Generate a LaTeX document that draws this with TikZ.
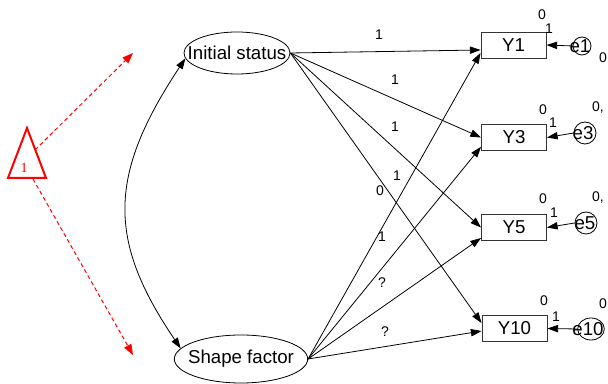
\documentclass[tikz,border=0pt]{standalone}
\usepackage{fontspec}
\setmainfont{Liberation Sans}
\newfontfamily\redserif{Liberation Serif}
\usetikzlibrary{arrows.meta,shapes.geometric}
\begin{document}
\begin{tikzpicture}[x=0.75pt,y=-0.75pt,
  lat/.style={draw, ellipse, inner sep=0pt, line width=0.6pt},
  lattxt/.style={inner sep=0pt, font=\fontsize{14}{16}\selectfont},
  obs/.style={draw=black!80, rectangle, minimum width=48.75pt, minimum height=19.5pt, inner sep=0pt, line width=0.7pt, font=\fontsize{14}{16}\selectfont},
  err/.style={draw, circle, inner sep=0pt, line width=0.6pt},
  errtxt/.style={inner sep=0pt, font=\fontsize{14}{16}\selectfont},
  small/.style={inner sep=0pt, font=\fontsize{10.5}{12}\selectfont},
  tip/.style={Triangle[length=8pt,width=5.5pt]},
  patharr/.style={-{Triangle[length=8pt,width=5.5pt]}, line width=0.6pt},
  redarr/.style={red, dash pattern=on 3pt off 2.2pt, line width=0.75pt, -{Triangle[length=8pt,width=6pt]}}
]
\useasboundingbox (0,0) rectangle (608,384);

% latent variables
\node[lat, minimum width=79.5pt, minimum height=31.5pt] (is) at (237,53) {};
\node[lattxt] (ist) at (is.center) {Initial status};
\node[lat, minimum width=100pt, minimum height=36pt] (sf) at (241,359) {};
\node[lattxt] (sft) at (sf.center) {Shape factor};

% observed
\node[obs] (y1) at (513.5,45) {Y1};
\node[obs] (y3) at (514,137.5) {Y3};
\node[obs] (y5) at (514,227.5) {Y5};
\node[obs] (y10) at (514.5,328.5) {Y10};

% errors
\node[err, minimum size=13.5pt] (e1) at (582,46) {};
\node[errtxt] (e1t) at (580,46) {e1};
\node[err, minimum size=16.5pt] (e3) at (585,133) {};
\node[errtxt] (e3t) at (583,133) {e3};
\node[err, minimum size=16.5pt] (e5) at (586,223) {};
\node[errtxt] (e5t) at (585,223) {e5};
\node[draw, ellipse, inner sep=0pt, line width=0.6pt, minimum width=20pt, minimum height=16.5pt] (e10) at (591,329) {};
\node[errtxt] (e10t) at (588,329) {e10};

\draw[patharr] (e1.west) -- (y1.east);
\draw[patharr] (e3.west) -- (y3.east);
\draw[patharr] (e5.west) -- (y5.east);
\draw[patharr] (e10.west) -- (y10.east);

% small labels near observed / errors
\node[small] (l1a) at (542,15) {0};
\node[small] (l1b) at (549,29) {1};
\node[small] (l1c) at (603,58) {0};
\node[small] (l3a) at (543,110) {0};
\node[small] (l3b) at (553,123) {1};
\node[small] (l3c) at (598,108) {0,};
\node[small] (l5a) at (543,199) {0};
\node[small] (l5b) at (554,213) {1};
\node[small] (l5c) at (598,198) {0,};
\node[small] (l10a) at (544,301) {0};
\node[small] (l10b) at (556,317) {1};
\node[small] (l10c) at (603,304) {0};

% paths
\draw[patharr] (is.east) -- ([yshift=-3.75pt]y1.west);
\draw[patharr] (is.east) -- (y3.west);
\draw[patharr] (is.east) -- (y5.west);
\draw[patharr] (is.east) -- ([yshift=4.1pt]y10.west);
\draw[patharr] (sf.east) -- ([yshift=-6pt]y1.west);
\draw[patharr] (sf.east) -- ([yshift=-7pt]y3.west);
\draw[patharr] (sf.east) -- ([yshift=-7.9pt]y5.west);
\draw[patharr] (sf.east) -- ([yshift=-1.9pt]y10.west);

% path labels
\node[small] (p1) at (379,35) {1};
\node[small] (p2) at (395,80) {1};
\node[small] (p3) at (395,127) {1};
\node[small] (p4) at (397,176) {1};
\node[small] (p5) at (380,191) {0};
\node[small] (p6) at (382,237) {1};
\node[small] (p7) at (382,283) {?};
\node[small] (p8) at (385,332) {?};

% covariance
\coordinate (cc1) at (108,175);
\coordinate (cc2) at (107,240);
\draw[line width=0.6pt, {Triangle[length=8pt,width=5.5pt]}-{Triangle[length=8pt,width=5.5pt]}]
  (is.186) .. controls (cc1) and (cc2) .. (sf.170);

% constant triangle
\coordinate (ta) at (27,128);
\coordinate (tb) at (8,178);
\coordinate (tc) at (46,178);
\draw[red, line width=1.5pt, line join=miter] (ta) -- (tb) -- (tc) -- cycle;
\node[inner sep=0pt, text=red, font=\redserif\fontsize{10.5}{12}\selectfont] (tone) at (24,168) {1};
\coordinate (r1s) at (35,150);
\coordinate (r1e) at (133,53);
\coordinate (r2s) at (33,179);
\coordinate (r2e) at (133,355);
\draw[redarr] (r1s) -- (r1e);
\draw[redarr] (r2s) -- (r2e);
\end{tikzpicture}
\end{document}
